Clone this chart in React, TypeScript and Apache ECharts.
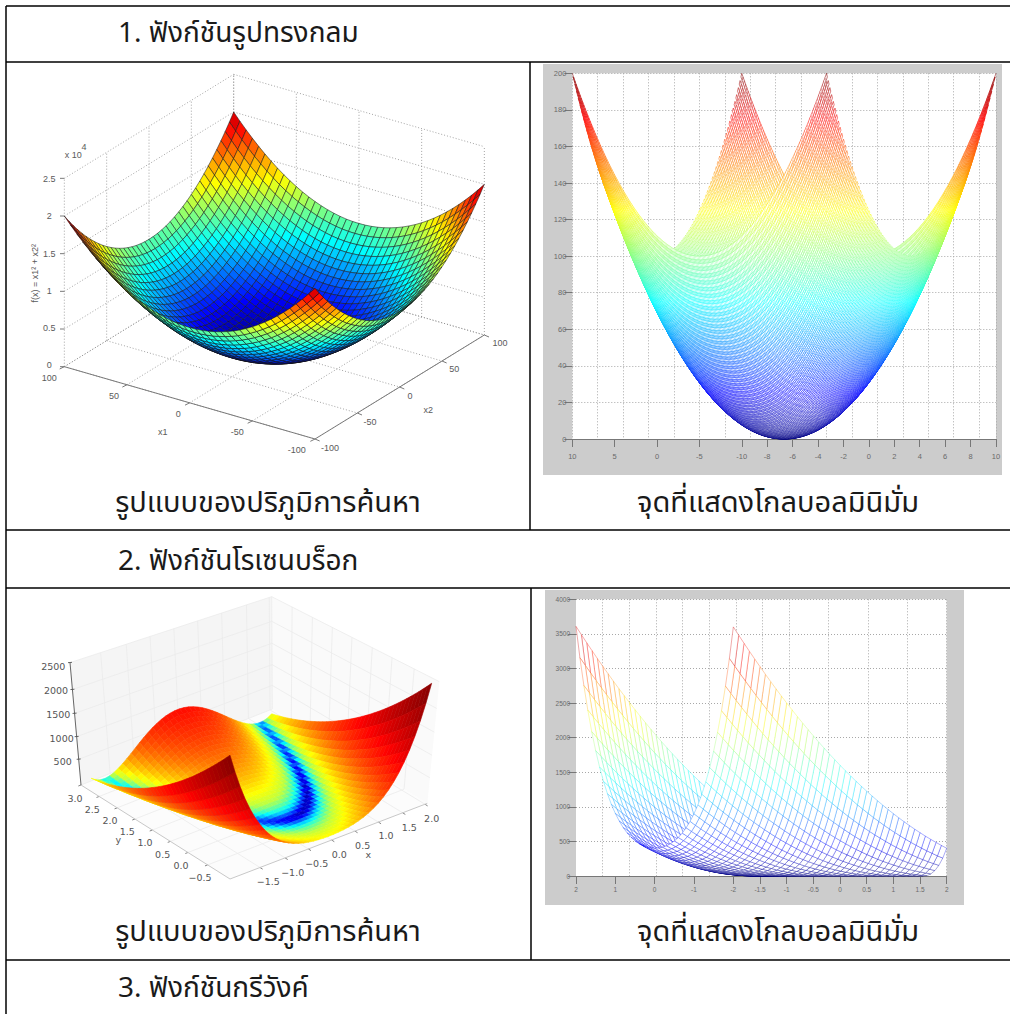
import React, { useEffect, useRef } from "react";
import * as echarts from "echarts";

const rowTitles = ["1. ฟังก์ชันรูปทรงกลม", "2. ฟังก์ชันโรเซนบร็อก", "3. ฟังก์ชันกรีวังค์"];
const leftCaption = "รูปแบบของปริภูมิการค้นหา";
const rightCaption = "จุดที่แสดงโกลบอลมินิมั่ม";

// Sphere, 3D view: height contributed by each coordinate, -100..100 in steps of 5
const sphereHalf = [10000, 9025, 8100, 7225, 6400, 5625, 4900, 4225, 3600, 3025, 2500, 2025, 1600, 1225, 900, 625, 400, 225, 100, 25, 0];
const sphereHeights = [...sphereHalf, ...sphereHalf.slice(0, -1).reverse()];
const sphereValues = sphereHeights.map((_, i) => -100 + i * 5);
const sphereAxisTicks = [-100, -50, 0, 50, 100];
const sphereZTicks = [0, 5000, 10000, 15000, 20000, 25000];
const sphereZLabels = ["0", "0.5", "1", "1.5", "2", "2.5"];

// Sphere, flat view: height contributed by each coordinate, -10..10 in steps of 0.1
const meshHalf = [100,98.01,96.04,94.09,92.16,90.25,88.36,86.49,84.64,82.81,81,79.21,77.44,75.69,73.96,72.25,70.56,68.89,67.24,65.61,64,62.41,60.84,59.29,57.76,56.25,54.76,53.29,51.84,50.41,49,47.61,46.24,44.89,43.56,42.25,40.96,39.69,38.44,37.21,36,34.81,33.64,32.49,31.36,30.25,29.16,28.09,27.04,26.01,25,24.01,23.04,22.09,21.16,20.25,19.36,18.49,17.64,16.81,16,15.21,14.44,13.69,12.96,12.25,11.56,10.89,10.24,9.61,9,8.41,7.84,7.29,6.76,6.25,5.76,5.29,4.84,4.41,4,3.61,3.24,2.89,2.56,2.25,1.96,1.69,1.44,1.21,1,0.81,0.64,0.49,0.36,0.25,0.16,0.09,0.04,0.01,0];
const meshHeights = [...meshHalf, ...meshHalf.slice(0, -1).reverse()];
const meshValues = meshHeights.map((_, i) => -10 + i * 0.1);
const flatSphereTickPos = [0, 5, 10, 15, 20, 23, 26, 29, 32, 35, 38, 41, 44, 47, 50];
const flatSphereTickText = ["10", "5", "0", "-5", "-10", "-8", "-6", "-4", "-2", "0", "2", "4", "6", "8", "10"];

// Rosenbrock heights: one row per x (-2..2 by 0.1), one column per y (-2..3 by 0.1)
const rosenX = [-2,-1.9,-1.8,-1.7,-1.6,-1.5,-1.4,-1.3,-1.2,-1.1,-1,-0.9,-0.8,-0.7,-0.6,-0.5,-0.4,-0.3,-0.2,-0.1,0,0.1,0.2,0.3,0.4,0.5,0.6,0.7,0.8,0.9,1,1.1,1.2,1.3,1.4,1.5,1.6,1.7,1.8,1.9,2];
const rosenY = [-2,-1.9,-1.8,-1.7,-1.6,-1.5,-1.4,-1.3,-1.2,-1.1,-1,-0.9,-0.8,-0.7,-0.6,-0.5,-0.4,-0.3,-0.2,-0.1,0,0.1,0.2,0.3,0.4,0.5,0.6,0.7,0.8,0.9,1,1.1,1.2,1.3,1.4,1.5,1.6,1.7,1.8,1.9,2,2.1,2.2,2.3,2.4,2.5,2.6,2.7,2.8,2.9,3];
const rosenZ = [
[3609,3490,3373,3258,3145,3034,2925,2818,2713,2610,2509,2410,2313,2218,2125,2034,1945,1858,1773,1690,1609,1530,1453,1378,1305,1234,1165,1098,1033,970,909,850,793,738,685,634,585,538,493,450,409,370,333,298,265,234,205,178,153,130,109],
[3155,3044,2935,2828,2722,2619,2518,2419,2322,2226,2133,2042,1953,1866,1780,1697,1616,1537,1460,1384,1311,1240,1171,1104,1038,975,914,855,798,742,689,638,589,542,496,453,412,373,336,300,267,236,207,180,154,131,110,91,74,58,45],
[2754,2650,2548,2448,2351,2255,2161,2069,1979,1892,1806,1722,1640,1560,1483,1407,1333,1261,1191,1124,1058,994,932,872,815,759,705,653,603,556,510,466,424,384,347,311,277,245,215,188,162,138,116,96,79,63,49,37,27,20,14],
[2398,2301,2207,2114,2023,1934,1847,1763,1680,1599,1520,1443,1369,1296,1225,1156,1089,1025,962,901,842,785,731,678,627,578,531,487,444,403,364,327,293,260,229,200,173,149,126,105,86,69,55,42,31,22,15.7,10.9,8.1,7.3,8.5],
[2086,1996,1908,1822,1738,1655,1575,1497,1421,1347,1274,1204,1136,1070,1006,943,883,825,769,715,662,612,564,518,474,431,391,353,317,283,250,220,192,166,142,119,99,81,65,51,38,28,20,14,9.4,7.2,6.9,8.8,12.5,19,26],
[1812,1728,1646,1566,1488,1412,1338,1266,1196,1128,1062,998,936,876,818,762,708,656,606,558,512,468,426,386,348,312,278,246,216,188,162,138,116,96,78,62,48,36,26,18,12,8.4,6.5,6.5,8.4,12.4,18,26,36,48,62],
[1574,1496,1420,1346,1273,1203,1135,1069,1005,942,882,824,768,714,661,611,563,517,473,430,390,352,316,282,249,219,191,165,141,118,98,80,64,50,37,27,19,12.6,8.4,6.2,6,7.8,11.6,18,25,35,47,61,77,94,114],
[1367,1294,1223,1154,1087,1023,960,899,840,783,729,676,625,576,529,485,442,401,362,325,291,258,227,198,171,147,124,103,84,67,53,40,29,20,13.7,8.9,6.1,5.3,6.5,9.7,15,22,31,42,55,71,88,107,128,151,177],
[1188,1121,1055,991,929,869,812,756,702,650,600,553,507,463,421,381,344,308,274,242,212,185,159,135,113,93,76,60,46,34,24,17,11,6.8,5,5.2,7.4,12,18,26,36,49,63,79,97,117,140,164,190,218,248],
[1034,971,910,851,794,738,685,634,585,538,492,449,408,369,332,296,263,232,203,176,150,127,106,87,70,54,41,30,21,14,8.8,5.6,4.4,5.2,8,12.8,19,28,39,52,66,83,102,123,146,170,197,226,257,290,324],
[904,845,788,733,680,629,580,533,488,445,404,365,328,293,260,229,200,173,148,125,104,85,68,53,40,29,20,13,8,5,4,5,8,13,20,29,40,53,68,85,104,125,148,173,200,229,260,293,328,365,404],
[794,738,685,634,585,538,492,449,408,369,332,296,263,232,203,176,150,127,106,87,70,54,41,30,21,13,8,4.8,3.6,4.4,7.2,12,19,28,39,52,66,83,102,123,146,170,197,226,257,290,324,361,400,441,484],
[700,648,598,551,505,461,419,379,342,306,272,240,210,183,157,133,111,91,74,58,44,32,22,15,9,5.2,3.4,3.6,5.8,10,16,24,34,47,61,77,95,115,138,162,188,216,246,279,313,349,387,427,470,514,560],
[623,574,527,483,440,399,360,323,289,256,225,196,169,145,122,101,82,65,51,38,27,18,11,6.5,3.7,2.9,4.1,7.3,12.5,20,29,40,53,69,86,105,126,149,175,202,231,262,295,331,368,407,448,491,537,584,633],
[560,514,470,427,387,349,313,279,246,216,188,162,138,115,95,77,61,47,34,24,16,9.4,5.2,3,2.8,4.6,8.4,15,22,32,44,58,74,91,111,133,157,183,210,240,272,306,342,379,419,461,505,551,598,648,700],
[508,464,422,382,344,308,274,242,212,184,158,134,112,92,74,58,44,32,22,14,8.5,4.5,2.5,2.5,4.5,8.5,14,22,32,44,58,74,92,112,134,158,184,212,242,274,308,344,382,422,464,508,554,602,652,704,758],
[469,426,386,348,312,278,245,215,187,161,137,114,94,76,60,46,33,23,15,8.8,4.6,2.4,2.2,4,7.8,14,21,31,43,57,73,90,110,132,156,182,209,239,271,305,341,378,418,460,504,550,597,647,699,753,809],
[439,398,359,322,287,254,224,195,168,143,120,100,81,64,49,36,26,17,10,5.3,2.5,1.7,2.9,6.1,11,18,28,39,52,67,84,104,125,148,173,200,230,261,294,329,366,406,447,490,535,582,632,683,736,791,849],
[418,378,340,304,270,239,209,181,155,131,110,90,72,56,42,31,21,13,7.2,3.4,1.6,1.8,4,8.2,14,23,33,45,59,75,94,114,136,160,186,215,245,277,311,347,386,426,468,512,558,607,657,709,763,819,878],
[405,366,329,294,260,229,200,173,148,124,103,84,67,52,38,27,18,10.8,5.6,2.4,1.2,2,4.8,9.6,16,25,36,49,64,80,99,120,143,168,194,223,254,287,322,358,397,438,481,526,572,621,672,725,780,836,895],
[401,362,325,290,257,226,197,170,145,122,101,82,65,50,37,26,17,10,5,2,1,2,5,10,17,26,37,50,65,82,101,122,145,170,197,226,257,290,325,362,401,442,485,530,577,626,677,730,785,842,901],
[405,366,329,293,260,229,200,172,147,124,103,84,66,51,38,27,18,10.4,5.2,2,0.8,1.6,4.4,9.2,16,25,36,48,63,80,99,120,142,167,194,223,254,286,321,358,397,438,480,525,572,621,671,724,779,836,895],
[417,377,339,303,270,238,208,180,154,131,109,89,71,55,42,30,20,12,6.4,2.6,0.8,1,3.2,7.4,14,22,32,44,58,75,93,113,135,159,186,214,244,276,310,347,385,425,467,511,558,606,656,708,762,819,877],
[437,396,358,321,286,253,222,194,167,142,119,98,80,63,48,35,24,16,8.9,4.1,1.3,0.5,1.7,4.9,10,17,26,38,51,66,83,102,124,147,172,199,228,260,293,328,365,404,446,489,534,581,630,682,735,790,847],
[467,425,385,346,310,276,244,214,185,159,135,113,93,74,58,44,32,22,13,7.2,3,0.8,0.6,2.4,6.2,12,20,30,41,55,71,89,109,130,154,180,208,238,269,303,339,377,417,458,502,548,596,646,697,751,807],
[506,462,420,380,342,306,272,240,210,182,156,132,110,90,72,56,42,30,20,12,6.5,2.5,0.5,0.5,2.5,6.5,12,20,30,42,56,72,90,110,132,156,182,210,240,272,306,342,380,420,462,506,552,600,650,702,756],
[557,511,467,424,384,346,310,276,243,213,185,159,135,112,92,74,58,44,31,21,13,7,2.8,0.6,0.4,2.2,6,12,19,29,41,55,71,88,108,130,154,180,207,237,269,303,339,376,416,458,502,548,595,645,697],
[620,571,524,480,437,396,357,320,286,253,222,193,166,142,119,98,79,62,48,35,24,15,8.5,3.7,0.9,0.1,1.3,4.5,9.7,17,26,37,50,66,83,102,123,146,172,199,228,259,292,328,365,404,445,488,534,581,630],
[697,645,595,548,502,458,416,376,339,303,269,237,207,180,154,130,108,88,71,55,41,29,19,12,5.8,2,0.2,0.4,2.6,6.8,13,21,31,44,58,74,92,112,135,159,185,213,243,276,310,346,384,424,467,511,557],
[790,734,681,630,581,534,488,445,404,365,328,292,259,228,199,172,146,123,102,83,66,50,37,26,17,9.6,4.4,1.2,0,0.8,3.6,8.4,15,24,35,48,62,79,98,119,142,166,193,222,253,286,320,357,396,437,480],
[900,841,784,729,676,625,576,529,484,441,400,361,324,289,256,225,196,169,144,121,100,81,64,49,36,25,16,9,4,1,0,1,4,9,16,25,36,49,64,81,100,121,144,169,196,225,256,289,324,361,400],
[1030,967,906,847,790,734,681,630,581,534,488,445,404,365,328,292,259,228,199,172,146,123,102,83,66,50,37,26,17,9.6,4.4,1.2,0,0.8,3.6,8.4,15,24,35,48,62,79,98,119,142,166,193,222,253,286,320],
[1183,1116,1050,986,924,864,807,751,697,645,595,548,502,458,416,376,339,303,269,237,207,180,154,130,108,88,71,55,41,29,19,12,5.8,2,0.2,0.4,2.6,6.8,13,21,31,44,58,74,92,112,135,159,185,213,243],
[1362,1289,1218,1149,1082,1018,955,894,835,778,724,671,620,571,524,480,437,396,357,320,286,253,222,193,166,142,119,98,79,62,48,35,24,15,8.5,3.7,0.9,0.1,1.3,4.5,9.7,17,26,37,50,66,83,102,123,146,172],
[1568,1490,1414,1340,1267,1197,1129,1063,999,936,876,818,762,708,655,605,557,511,467,424,384,346,310,276,243,213,185,159,135,112,92,74,58,44,31,21,13,7,2.8,0.6,0.4,2.2,6,12,19,29,41,55,71,88,108],
[1806,1722,1640,1560,1482,1406,1332,1260,1190,1122,1056,992,930,870,812,756,702,650,600,552,506,462,420,380,342,306,272,240,210,182,156,132,110,90,72,56,42,30,20,12,6.5,2.5,0.5,0.5,2.5,6.5,12,20,30,42,56],
[2079,1989,1901,1815,1731,1648,1568,1490,1414,1340,1267,1197,1129,1063,999,936,876,818,762,708,655,605,557,511,467,424,384,346,310,276,243,213,185,159,135,112,92,74,58,44,31,21,13,7.2,3,0.8,0.6,2.4,6.2,12,19],
[2391,2294,2200,2107,2016,1927,1840,1756,1673,1592,1513,1436,1362,1289,1218,1149,1082,1018,955,894,835,778,724,671,620,571,524,480,437,396,357,320,286,253,222,193,166,142,119,98,79,62,48,35,24,15,8.9,4.1,1.3,0.5,1.7],
[2746,2642,2540,2440,2343,2247,2153,2061,1971,1884,1798,1714,1632,1552,1475,1399,1325,1253,1183,1116,1050,986,924,864,807,751,697,645,595,548,502,458,416,376,339,303,269,237,207,180,154,130,108,88,71,55,41,29,19,12,6.4],
[3147,3036,2927,2820,2714,2611,2510,2411,2314,2218,2125,2034,1945,1858,1772,1689,1608,1529,1452,1376,1303,1232,1163,1096,1030,967,906,847,790,734,681,630,581,534,488,445,404,365,328,292,259,228,199,172,146,123,102,83,66,50,37],
[3601,3482,3365,3250,3137,3026,2917,2810,2705,2602,2501,2402,2305,2210,2117,2026,1937,1850,1765,1682,1601,1522,1445,1370,1297,1226,1157,1090,1025,962,901,842,785,730,677,626,577,530,485,442,401,362,325,290,257,226,197,170,145,122,101],
];
const rosenMeshTickPos = [0, 1, 2, 3, 4, 4.678, 5.356, 6.034, 6.712, 7.39, 8.068, 8.746, 9.424];
const rosenMeshTickText = ["2", "1", "0", "-1", "-2", "-1.5", "-1", "-0.5", "0", "0.5", "1", "1.5", "2"];
const rosenMeshGridPos = [0.678, 1.356, 2.034, 2.712, 3.39, 4.068, 4.746, 5.424, 6.424, 7.424, 8.424, 9.424];

const rosenXTicks = ["−1.5", "−1.0", "−0.5", "0.0", "0.5", "1.0", "1.5", "2.0"];
const rosenYTicks = ["3.0", "2.5", "2.0", "1.5", "1.0", "0.5", "0.0", "−0.5"];
const rosenZTicks = ["500", "1000", "1500", "2000", "2500"];

// Colour position of the 3D Rosenbrock surface at given heights
const toneHeights = [0, 1, 6, 12, 40, 100, 250, 600, 900, 1500, 2500];
const toneLevels = [0, 0.07, 0.3, 0.4, 0.56, 0.63, 0.72, 0.82, 0.865, 0.93, 1];

const jetStops: [number, number[]][] = [
  [0, [0, 0, 127]], [0.125, [0, 0, 255]], [0.375, [0, 255, 255]], [0.625, [255, 255, 0]], [0.875, [255, 0, 0]], [1, [127, 0, 0]],
];
function jet(t0: number, alpha = 1) {
  const t = Math.max(0, Math.min(1, t0));
  for (let k = 1; k < jetStops.length; k++) {
    if (t <= jetStops[k][0]) {
      const [a, ca] = jetStops[k - 1];
      const [b, cb] = jetStops[k];
      const f = (t - a) / (b - a);
      const c = ca.map((v, n) => Math.round(v + (cb[n] - v) * f));
      return `rgba(${c[0]},${c[1]},${c[2]},${alpha})`;
    }
  }
  return "rgb(127,0,0)";
}
const lerp2 = (a: number[], b: number[], f: number) => [a[0] + (b[0] - a[0]) * f, a[1] + (b[1] - a[1]) * f];

// Panel origins in page pixels; plane units are thirds of a pixel
const P1 = { x: 20, y: 60 };
const P3 = { x: 20, y: 585 };

// Orthographic MATLAB view of the sphere
function sphereProject(x1: number, x2: number, z: number) {
  const a = (x1 + 100) / 200, b = (x2 + 100) / 200;
  return [885 + a * (133 - 885) + b * (1393 - 885), 1137 + a * (920 - 1137) + b * (825 - 1137) - (z / 25000) * 565];
}
// mplot3d view of Rosenbrock: corners of the surface and a vertical vector per corner
function rosenProject(x: number, y: number, z: number) {
  const a = (x + 2) / 4, b = (y + 1) / 4;
  const w = (f: number, r: number, l: number, k: number) => (1 - a) * (1 - b) * f + a * (1 - b) * r + (1 - a) * b * l + a * b * k;
  return [
    w(630, 1222, 215, 755) + z * w(0, 0.0052, -0.0132, -0.0008),
    w(882, 655, 596, 400) + z * w(-0.148, -0.144, -0.147, -0.134),
  ];
}
function rosenTone(f: number) {
  for (let k = 1; k < toneHeights.length; k++) {
    if (f <= toneHeights[k]) {
      const a = Math.log10(1 + toneHeights[k - 1]), b = Math.log10(1 + toneHeights[k]);
      return toneLevels[k - 1] + (toneLevels[k] - toneLevels[k - 1]) * (Math.log10(1 + f) - a) / (b - a);
    }
  }
  return 1;
}

const THAI = '"Noto Sans Thai", "Noto Sans", "DejaVu Sans", sans-serif';
const ARIAL = '"Liberation Sans", Arial, sans-serif';
const DEJA = '"DejaVu Sans", sans-serif';

function label(text: string, x: number, y: number, size: number, fill: string, family: string, extra: any = {}) {
  return {
    type: "text", x, y, z: 20, silent: true, ...extra,
    style: { text, fontSize: size, fontFamily: family, fill, align: extra.align || "center", verticalAlign: "middle" },
  };
}
const p1Label = (t: string, zx: number, zy: number, extra: any = {}) => label(t, P1.x + zx / 3, P1.y + zy / 3, 9, "#5a5a5a", ARIAL, extra);
const p3Label = (t: string, zx: number, zy: number) => label(t, P3.x + zx / 3, P3.y + zy / 3, 9.5, "#555", DEJA);

function segment(api: any, a: number[], b: number[], style: any) {
  const s = api.coord(a), e = api.coord(b);
  return { type: "line", shape: { x1: s[0], y1: s[1], x2: e[0], y2: e[1] }, style, silent: true };
}

function sphereFrame(_: any, api: any) {
  const dot = { stroke: "#8c8c8c", lineWidth: 0.8, lineDash: [1, 2] };
  const solid = { stroke: "#7a7a7a", lineWidth: 1 };
  const c: any[] = [];
  sphereZTicks.forEach((z) => {
    c.push(segment(api, sphereProject(100, -100, z), sphereProject(100, 100, z), dot));
    c.push(segment(api, sphereProject(100, 100, z), sphereProject(-100, 100, z), dot));
    const p = sphereProject(100, -100, z);
    c.push(segment(api, [p[0] - 13, p[1]], p, solid));
  });
  sphereAxisTicks.forEach((t) => {
    c.push(segment(api, sphereProject(100, t, 0), sphereProject(100, t, 25000), dot));
    c.push(segment(api, sphereProject(t, 100, 0), sphereProject(t, 100, 25000), dot));
    c.push(segment(api, sphereProject(100, t, 0), sphereProject(-100, t, 0), dot));
    c.push(segment(api, sphereProject(t, 100, 0), sphereProject(t, -100, 0), dot));
    const a = sphereProject(t, -100, 0), b = sphereProject(-100, t, 0);
    c.push(segment(api, a, [a[0] - 14, a[1] + 7], solid));
    c.push(segment(api, b, [b[0] + 14, b[1] + 6], solid));
  });
  c.push(segment(api, sphereProject(100, -100, 0), sphereProject(-100, -100, 0), solid));
  c.push(segment(api, sphereProject(-100, -100, 0), sphereProject(-100, 100, 0), solid));
  return { type: "group", children: c };
}
const sphereCells: number[][] = [];
for (let i = sphereValues.length - 1; i > 0; i--) for (let j = sphereValues.length - 1; j > 0; j--) sphereCells.push([i, j]);
function sphereCell(_: any, api: any) {
  const i = api.value(0), j = api.value(1);
  const v = [[i, j], [i - 1, j], [i - 1, j - 1], [i, j - 1]];
  let sum = 0;
  const pts = v.map(([a, b]) => {
    const z = sphereHeights[a] + sphereHeights[b];
    sum += z;
    return api.coord(sphereProject(sphereValues[a], sphereValues[b], z));
  });
  return { type: "polygon", shape: { points: pts }, silent: true, style: { fill: jet(sum / 4 / 21000), stroke: "rgba(20,20,20,0.65)", lineWidth: 0.8 } };
}

// Flat view of the sphere: strips of the mesh painted far to near, white behind coloured lines
const flatStrips: number[][] = [];
for (let k = 0; k < meshValues.length - 1; k++) flatStrips.push([k, 0]);
let flatGradient: any = null;
function flatStrip(_: any, api: any) {
  const k = api.value(0);
  if (!flatGradient) {
    const top = api.coord([0, 200]), bottom = api.coord([0, 0]);
    const stops = [];
    for (let n = 0; n <= 16; n++) stops.push({ offset: n / 16, color: jet(1 - n / 16) });
    flatGradient = new echarts.graphic.LinearGradient(0, top[1], 0, bottom[1], stops, true);
  }
  const at = (ix: number, iy: number) => api.coord([25 + 1.5 * meshValues[ix] + meshValues[iy], meshHeights[ix] + meshHeights[iy]]);
  const last = meshValues.length - 1;
  const near: number[][] = [], far: number[][] = [], snake: number[][] = [];
  for (let m = 0; m <= last; m++) {
    if (m % 2 === 0) { near.push(at(k + 1, m)); far.push(at(k, m)); }
    if (m % 2 === 0) snake.push(at(k, m), at(k + 1, m));
    else snake.push(at(k + 1, m), at(k, m));
  }
  return {
    type: "group",
    children: [
      { type: "polygon", silent: true, shape: { points: [...far, ...near.reverse()] }, style: { fill: "#fff" } },
      { type: "polyline", silent: true, shape: { points: snake }, style: { fill: "none", stroke: flatGradient, lineWidth: 0.62, opacity: 0.85 } },
    ],
  };
}

// Rosenbrock wire mesh with hidden lines removed
const yMeshIdx = rosenY.map((y, i) => (y <= 2 ? i : -1)).filter((i) => i >= 0);
const meshCells: number[][] = [];
for (let i = 1; i < rosenX.length; i++) for (let n = yMeshIdx.length - 1; n > 0; n--) meshCells.push([i, yMeshIdx[n]]);
function meshCell(_: any, api: any) {
  const i = api.value(0), j = api.value(1);
  const v = [[i, j], [i - 1, j], [i - 1, j - 1], [i, j - 1]];
  let sum = 0;
  const pts = v.map(([a, b]) => {
    const z = rosenZ[a][b];
    sum += z;
    return api.coord([rosenX[a] + 2 + 1.356 * (rosenY[b] + 2), z]);
  });
  return { type: "polygon", shape: { points: pts }, silent: true, style: { fill: "#fff", stroke: jet(sum / 4 / 3610, 0.42), lineWidth: 0.8 } };
}

// Rosenbrock 3D surface
const ySurfIdx = rosenY.map((y, i) => (y >= -1 ? i : -1)).filter((i) => i >= 0);
const surfCells: number[][] = [];
for (let i = rosenX.length - 1; i > 0; i--) for (let n = ySurfIdx.length - 1; n > 0; n--) surfCells.push([i, ySurfIdx[n]]);
function surfCell(_: any, api: any) {
  const i = api.value(0), j = api.value(1);
  const v = [[i, j], [i - 1, j], [i - 1, j - 1], [i, j - 1]];
  let sum = 0;
  const pts = v.map(([a, b]) => {
    const z = rosenZ[a][b];
    sum += z;
    return api.coord(rosenProject(rosenX[a], rosenY[b], z));
  });
  const c = jet(rosenTone(sum / 4));
  return { type: "polygon", shape: { points: pts }, silent: true, style: { fill: c, stroke: c, lineWidth: 0.6 } };
}
const La = [183, 600], Fa = [630, 882], Ra = [1222, 655], Ba = [757, 372], Lt = [150, 233], Bt = [755, 35], Rt = [1258, 290];
const xFractions = [0.152, 0.279, 0.397, 0.515, 0.633, 0.752, 0.875, 0.988];
const yFractions = [0.0, 0.122, 0.243, 0.362, 0.479, 0.6, 0.718, 0.85];
const zFractions = [0.21, 0.395, 0.585, 0.78, 1];
function surfFrame(_: any, api: any) {
  const grid = { stroke: "#ebebeb", lineWidth: 0.8 };
  const axis = { stroke: "#c8c8c8", lineWidth: 1 };
  const dark = { stroke: "#555", lineWidth: 0.9 };
  const poly = (pts: number[][], fill: string) => ({ type: "polygon", silent: true, shape: { points: pts.map((p) => api.coord(p)) }, style: { fill } });
  const c: any[] = [poly([La, Fa, Ra, Ba], "#fcfcfc"), poly([La, Ba, Bt, Lt], "#f5f5f5"), poly([Ba, Ra, Rt, Bt], "#fafafa")];
  xFractions.forEach((f) => {
    c.push(segment(api, lerp2(La, Ba, f), lerp2(Lt, Bt, f), grid));
    c.push(segment(api, lerp2(La, Ba, f), lerp2(Fa, Ra, f), grid));
    const t = lerp2(Fa, Ra, f);
    c.push(segment(api, t, [t[0] + 8, t[1] + 5], { stroke: "#666", lineWidth: 0.8 }));
  });
  yFractions.forEach((f) => {
    c.push(segment(api, lerp2(Ba, Ra, f), lerp2(Bt, Rt, f), grid));
    c.push(segment(api, lerp2(La, Fa, f), lerp2(Ba, Ra, f), grid));
    const t = lerp2(La, Fa, f);
    c.push(segment(api, t, [t[0] - 8, t[1] + 3], { stroke: "#666", lineWidth: 0.8 }));
  });
  zFractions.forEach((f) => {
    const a = lerp2(La, Lt, f), b = lerp2(Ba, Bt, f), d = lerp2(Ra, Rt, f);
    c.push(segment(api, a, b, grid));
    c.push(segment(api, b, d, grid));
    c.push(segment(api, [a[0] - 6, a[1]], [a[0] + 6, a[1] - 1], dark));
  });
  c.push(segment(api, La, Fa, axis), segment(api, Fa, Ra, axis), segment(api, La, Lt, dark));
  return { type: "group", children: c };
}

const hLine = (x1: number, x2: number, y: number, w = 1.5) => ({ type: "line", z: 30, silent: true, shape: { x1, y1: y, x2, y2: y }, style: { stroke: "#000", lineWidth: w } });
const vLine = (x: number, y1: number, y2: number, w = 1.5) => ({ type: "line", z: 30, silent: true, shape: { x1: x, y1, x2: x, y2 }, style: { stroke: "#000", lineWidth: w } });
const block = (x: number, y: number, width: number, height: number, fill: string, z: number) => ({ type: "rect", z, silent: true, shape: { x, y, width, height }, style: { fill } });

const textGray = "#6a6a6a";
const tickAxis = (fontSize: number, margin: number) => ({
  axisLine: { show: true, lineStyle: { color: "#777", width: 1 } },
  axisTick: { show: true, length: 8, lineStyle: { color: "#777", width: 1 } },
  axisLabel: { color: textGray, fontSize, fontFamily: ARIAL, margin, formatter: (v: number) => String(v) },
});
const dots = { lineStyle: { color: "#a8a8a8", width: 1, type: [1, 2] as any } };

export default function App() {
  const ref = useRef<HTMLDivElement>(null);
  useEffect(() => {
    const chart = echarts.init(ref.current!, undefined, { renderer: "svg" });
    const planeAxis = (gridIndex: number, max: number, inverse = false) => ({ gridIndex, type: "value", min: 0, max, show: false, inverse });
    const nearest = (pos: number[], text: string[]) => (v: number) => {
      let best = 0;
      pos.forEach((p, i) => { if (Math.abs(p - v) < Math.abs(pos[best] - v)) best = i; });
      return text[best];
    };
    const ax2 = tickAxis(7.5, 13), ax4 = tickAxis(6.5, 10);
    chart.setOption({
      animation: false,
      backgroundColor: "#fff",
      grid: [
        { left: 572.3, top: 73.3, width: 423.7, height: 365.7 },
        { left: 576, top: 599.3, width: 370.7, height: 276.7 },
        { left: P1.x, top: P1.y, width: 500, height: 420 },
        { left: P3.x, top: P3.y, width: 500, height: 320 },
      ],
      xAxis: [
        { gridIndex: 0, type: "value", min: 0, max: 50, ...ax2, axisTick: { ...ax2.axisTick, customValues: flatSphereTickPos }, axisLabel: { ...ax2.axisLabel, customValues: flatSphereTickPos, formatter: nearest(flatSphereTickPos, flatSphereTickText) }, splitLine: { show: false } },
        { gridIndex: 0, type: "value", min: 0, max: 50, interval: 3, axisLine: { show: false }, axisTick: { show: false }, axisLabel: { show: false }, splitLine: { show: true, ...dots } },
        { gridIndex: 1, type: "value", min: 0, max: 9.424, ...ax4, axisTick: { ...ax4.axisTick, customValues: rosenMeshTickPos }, axisLabel: { ...ax4.axisLabel, customValues: rosenMeshTickPos, formatter: nearest(rosenMeshTickPos, rosenMeshTickText) }, splitLine: { show: false } },
        { gridIndex: 1, type: "value", min: 0, max: 9.424, axisLine: { show: false }, axisTick: { show: false, customValues: rosenMeshGridPos }, axisLabel: { show: false, customValues: rosenMeshGridPos }, splitLine: { show: true, ...dots } },
        planeAxis(2, 1500),
        planeAxis(3, 1500),
      ],
      yAxis: [
        { gridIndex: 0, type: "value", min: 0, max: 200, interval: 20, ...tickAxis(7.5, 6), axisLine: { show: false }, splitLine: { show: true, ...dots } },
        { gridIndex: 1, type: "value", min: 0, max: 4000, interval: 500, ...tickAxis(6.5, 6), axisLine: { show: false }, splitLine: { show: true, ...dots } },
        planeAxis(2, 1260, true),
        planeAxis(3, 960, true),
      ],
      series: [
        { type: "custom", xAxisIndex: 4, yAxisIndex: 2, data: [[0, 0]], renderItem: sphereFrame, silent: true, clip: false, z: 2 },
        { type: "custom", xAxisIndex: 4, yAxisIndex: 2, data: sphereCells, renderItem: sphereCell, silent: true, clip: false, z: 3, progressive: 0 },
        { type: "custom", xAxisIndex: 0, yAxisIndex: 0, data: flatStrips, renderItem: flatStrip, silent: true, clip: false, z: 3, progressive: 0 },
        { type: "custom", xAxisIndex: 5, yAxisIndex: 3, data: [[0, 0]], renderItem: surfFrame, silent: true, clip: false, z: 2 },
        { type: "custom", xAxisIndex: 5, yAxisIndex: 3, data: surfCells, renderItem: surfCell, silent: true, clip: false, z: 3, progressive: 0 },
        { type: "custom", xAxisIndex: 2, yAxisIndex: 1, data: meshCells, renderItem: meshCell, silent: true, clip: false, z: 3, progressive: 0 },
      ],
      graphic: [{
        elements: [
          block(543, 64, 459, 411, "#cccccc", -3),
          block(572.3, 73.3, 423.7, 365.7, "#ffffff", -2),
          block(545, 590, 419, 315, "#cccccc", -3),
          block(576, 599.3, 370.7, 276.7, "#ffffff", -2),
          hLine(6, 1010, 6), hLine(6, 1010, 62), hLine(6, 1010, 530), hLine(6, 1010, 588), hLine(6, 1010, 960),
          vLine(6, 6, 1014), vLine(530, 62, 530), vLine(531, 588, 960),
          label(rowTitles[0], 118, 33, 28, "#1a1a1a", THAI, { align: "left" }),
          label(rowTitles[1], 118, 561, 28, "#1a1a1a", THAI, { align: "left" }),
          label(rowTitles[2], 118, 988, 28, "#1a1a1a", THAI, { align: "left" }),
          label(leftCaption, 268, 503, 29, "#1a1a1a", THAI),
          label(rightCaption, 778, 503, 29, "#1a1a1a", THAI),
          label(leftCaption, 268, 932, 29, "#1a1a1a", THAI),
          label(rightCaption, 778, 932, 29, "#1a1a1a", THAI),
          ...sphereZLabels.map((t, i) => p1Label(t, 88, 915 - i * 111.5)),
          p1Label("x 10", 160, 285), p1Label("4", 192, 260),
          p1Label("f(x) = x1² + x2²", 45, 640, { rotation: Math.PI / 2 }),
          ...["100", "50", "0", "-50", "-100"].map((t, i) => p1Label(t, [88, 282, 475, 652, 830][i], [955, 1008, 1063, 1115, 1170][i])),
          ...["-100", "-50", "0", "50", "100"].map((t, i) => p1Label(t, [930, 1050, 1170, 1303, 1440][i], [1163, 1085, 1007, 928, 850][i])),
          p1Label("x1", 428, 1115), p1Label("x2", 1225, 1050),
          ...rosenZTicks.map((t, i) => p3Label(t, [128, 125, 115, 108, 100][i], [530, 460, 388, 316, 243][i])),
          ...rosenYTicks.map((t, i) => p3Label(t, [165, 217, 270, 322, 375, 428, 483, 540][i], [640, 672, 705, 738, 772, 807, 842, 877][i])),
          ...rosenXTicks.map((t, i) => p3Label(t, [745, 818, 890, 958, 1028, 1098, 1168, 1235][i], [890, 862, 835, 807, 780, 752, 727, 700][i])),
          p3Label("y", 295, 763), p3Label("x", 1045, 808),
        ],
      }],
    });
    return () => chart.dispose();
  }, []);
  return <div ref={ref} style={{ position: "absolute", left: 0, top: 0, width: 1010, height: 1014 }} />;
}
